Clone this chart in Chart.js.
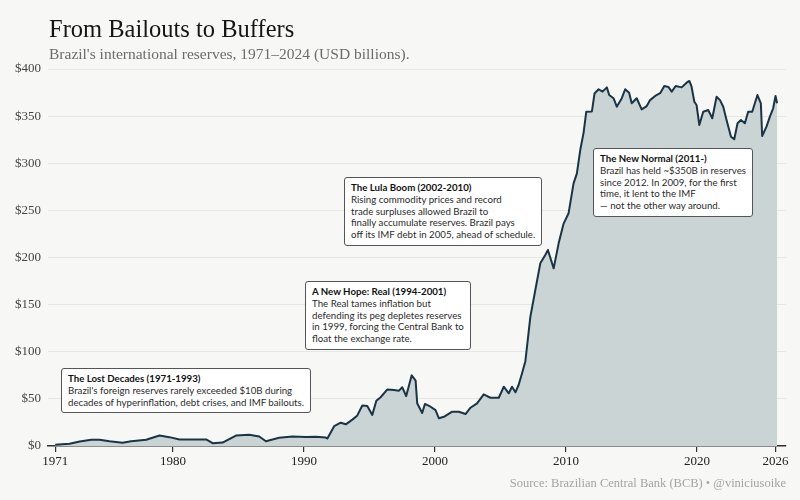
<!DOCTYPE html>
<html>
<head>
<meta charset="utf-8">
<script src="https://cdn.jsdelivr.net/npm/chart.js@4.4.1/dist/chart.umd.min.js"></script>
<style>
  html, body { margin: 0; padding: 0; background: #f7f8f6; }
  #wrap { position: relative; width: 800px; height: 500px; overflow: hidden; }
  #chart { position: absolute; left: 0; top: 0; }
  .title { position: absolute; left: 49px; top: 15px; font: 24.5px "Liberation Serif", serif; color: #151515; white-space: nowrap; }
  .subtitle { position: absolute; left: 49px; top: 45px; font: 15.5px "Liberation Serif", serif; color: #6b6b6b; white-space: nowrap; }
  .source { position: absolute; right: 14px; top: 476px; font: 12.5px "Liberation Serif", serif; color: #a3a3a3; white-space: nowrap; }
  .note { position: absolute; background: #fff; border: 1px solid #555; border-radius: 3px;
          padding: 4px 6px; font: 9.7px Lato, sans-serif; line-height: 11.8px; color: #2b2b2b; white-space: nowrap; }
  .note b { color: #111; }
</style>
</head>
<body>
<div id="wrap">
  <canvas id="chart" width="800" height="500"></canvas>
  <div class="title">From Bailouts to Buffers</div>
  <div class="subtitle">Brazil's international reserves, 1971–2024 (USD billions).</div>
  <div class="note" style="left:61px; top:368px;"><b>The Lost Decades (1971-1993)</b><br>Brazil's foreign reserves rarely exceeded $10B during<br>decades of hyperinflation, debt crises, and IMF bailouts.</div>
  <div class="note" style="left:305px; top:281px;"><b>A New Hope: Real (1994-2001)</b><br>The Real tames inflation but<br>defending its peg depletes reserves<br>in 1999, forcing the Central Bank to<br>float the exchange rate.</div>
  <div class="note" style="left:344px; top:177px;"><b>The Lula Boom (2002-2010)</b><br>Rising commodity prices and record<br>trade surpluses allowed Brazil to<br>finally accumulate reserves. Brazil pays<br>off its IMF debt in 2005, ahead of schedule.</div>
  <div class="note" style="left:593px; top:148px;"><b>The New Normal (2011-)</b><br>Brazil has held ~$350B in reserves<br>since 2012. In 2009, for the first<br>time, it lent to the IMF<br>— not the other way around.</div>
  <div class="source">Source: Brazilian Central Bank (BCB) • @viniciusoike</div>
</div>
<script>
// dates as decimal years
const dates = [
  1971.0, 1972.1, 1972.87, 1973.76, 1974.39, 1975.15, 1976.14, 1976.8, 1977.95, 1978.96,
  1979.72, 1980.49, 1981.5, 1982.52, 1983.02, 1983.78, 1984.8, 1985.82, 1986.58, 1987.09,
  1988.1, 1989.12, 1990.14, 1990.9, 1991.66, 1991.78, 1992.3, 1992.8, 1993.19, 1993.69,
  1994.05, 1994.45, 1994.83, 1995.21, 1995.52, 1995.85, 1996.36, 1996.87, 1997.25, 1997.5,
  1997.8, 1998.22, 1998.52, 1998.64, 1999.02, 1999.23, 1999.66, 2000.04, 2000.3, 2000.68,
  2001.31, 2001.82, 2002.33, 2002.71, 2003.21, 2003.72, 2004.23, 2004.87, 2005.25, 2005.63,
  2005.88, 2006.14, 2006.39, 2006.64, 2006.9, 2007.28, 2007.66, 2008.04, 2008.42, 2008.62,
  2009.06, 2009.44, 2009.82, 2010.2, 2010.58, 2010.83, 2011.09, 2011.34, 2011.55, 2011.98,
  2012.18, 2012.49, 2012.79, 2013.12, 2013.3, 2013.63, 2013.88, 2014.26, 2014.52, 2014.82,
  2015.02, 2015.4, 2015.78, 2016.17, 2016.42, 2016.81, 2017.19, 2017.51, 2017.82, 2018.07,
  2018.38, 2018.83, 2019.21, 2019.42, 2019.59, 2019.8, 2019.97, 2020.18, 2020.48, 2020.86,
  2021.17, 2021.5, 2021.76, 2022.01, 2022.26, 2022.6, 2022.85, 2023.1, 2023.36, 2023.66,
  2023.91, 2024.22, 2024.62, 2024.88, 2024.98, 2025.31, 2025.57, 2025.82, 2026.0, 2026.12
];
const reserves = [
  1.2, 2.3, 4.8, 6.6, 6.6, 5.1, 3.5, 5.1, 6.6, 11.1,
  9.4, 7.0, 7.0, 7.0, 3.0, 3.7, 11.1, 11.9, 10.1, 5.1,
  8.7, 10.1, 9.5, 9.8, 9.0, 8.0, 21.0, 24.7, 23.0, 28.0,
  32.0, 43.0, 42.5, 33.0, 48.0, 51.7, 60.0, 59.4, 58.7, 62.3,
  53.0, 75.0, 69.3, 45.3, 35.0, 44.6, 41.7, 38.0, 29.4, 31.0,
  36.4, 36.4, 33.9, 40.6, 45.3, 54.8, 51.2, 51.2, 62.9, 55.9,
  62.9, 57.0, 65.0, 77.0, 90.0, 137.0, 165.5, 193.8, 202.6, 208.0,
  188.5, 215.0, 236.0, 247.0, 278.7, 289.0, 314.0, 332.0, 354.7, 355.0,
  374.0, 378.5, 376.0, 380.5, 372.4, 369.0, 360.0, 369.0, 378.5, 374.8,
  363.6, 369.0, 357.2, 360.7, 367.0, 371.4, 374.3, 382.0, 381.0, 376.0,
  382.0, 380.5, 385.5, 387.3, 381.2, 365.3, 361.8, 340.6, 354.7, 356.5,
  347.7, 370.6, 367.0, 360.0, 345.9, 328.2, 325.4, 342.4, 345.9, 342.4,
  354.7, 354.7, 372.4, 363.6, 328.9, 338.8, 349.4, 358.3, 371.4, 363.6
];
const xTickYears = [1971, 1980, 1990, 2000, 2010, 2020, 2026];
const yTickStep = 50;

const tickFont = { family: '"Liberation Serif", serif', size: 13 };

new Chart(document.getElementById('chart').getContext('2d'), {
  type: 'line',
  data: {
    datasets: [{
      data: dates.map((d, i) => ({ x: d, y: reserves[i] })),
      borderColor: '#1a3446',
      backgroundColor: '#cbd4d5',
      borderWidth: 2,
      fill: 'origin',
      pointRadius: 0,
      tension: 0,
      borderJoinStyle: 'round'
    }]
  },
  options: {
    responsive: false,
    animation: false,
    devicePixelRatio: 1,
    layout: { padding: { top: 69, right: 14, bottom: 0, left: 0 } },
    plugins: { legend: { display: false }, tooltip: { enabled: false } },
    scales: {
      x: {
        type: 'linear',
        min: 1970.45,
        max: 2026.8,
        afterBuildTicks: s => { s.ticks = xTickYears.map(v => ({ value: v })); },
        afterFit: s => { s.height = 54; },
        ticks: { callback: v => String(v), color: '#222', font: tickFont, padding: 2, maxRotation: 0, autoSkip: false },
        grid: { drawOnChartArea: false, drawTicks: true, tickLength: 6, color: '#333', lineWidth: 1.2 },
        border: { display: true, color: '#333', width: 1.5 }
      },
      y: {
        min: 0,
        max: 400,
        afterFit: s => { s.width = 48; },
        ticks: { stepSize: yTickStep, callback: v => '$' + v, color: '#444', font: tickFont, padding: 7 },
        grid: { color: '#e4e7e4', drawTicks: false, lineWidth: 1 },
        border: { display: false }
      }
    }
  }
});
</script>
</body>
</html>
